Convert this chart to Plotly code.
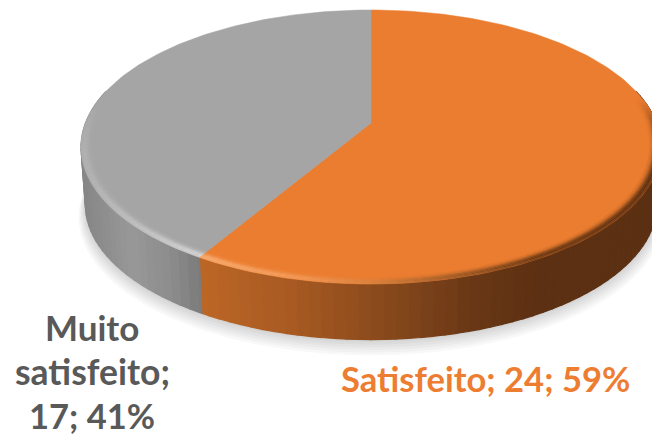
import numpy as np
import plotly.graph_objects as go

categories = ["Satisfeito", "Muito satisfeito"]
values = [24, 17]
percent_labels = ["59%", "41%"]
top_colors = ["#EB7D30", "#A5A5A5"]
label_colors = ["#ED7D31", "#595959"]

W, H = 652, 437
CX, CY, A, HT, K = 371, 123, 285.5, 132.8, 0.175
DEPTH, BSCALE = 58, 0.985


def hexrgb(c):
    c = c.lstrip("#")
    return np.array([int(c[i:i + 2], 16) for i in (0, 2, 4)], float)


def rgb(v):
    return "rgb(%d,%d,%d)" % tuple(np.clip(np.round(v), 0, 255))


def project(theta, r=1.0, depth=0.0, scale=1.0):
    """theta clockwise from top; result in data units of the axes (A-normalised)."""
    X = r * np.sin(theta)
    Y = r * np.cos(theta)
    w = 1 + K * Y
    return X / w * scale, Y / w * (HT / A) * scale - depth / A


def interp_color(x, stops):
    xs = [s[0] for s in stops]
    return np.array([np.interp(x, xs, [hexrgb(s[1])[i] for s in stops]) for i in range(3)])


RIM_STOPS = [
    [(204, "#BC6626"), (290, "#A85A22"), (380, "#8A4A1C"), (470, "#6A3816"), (540, "#5C3012"), (660, "#5C3012")],
    [(80, "#868686"), (130, "#989898"), (170, "#8c8c8c"), (204, "#787878")],
]
EDGE_STOPS = [
    [(204, "#F8AE74"), (300, "#F39A58"), (370, "#D98440"), (450, "#A05C28"), (540, "#683814"), (660, "#5C3012")],
    [(80, "#B0B0B0"), (130, "#C0C0C0"), (204, "#D8D8D8")],
]

fig = go.Figure()


def poly(xs, ys, color, line=0.8):
    fig.add_trace(go.Scatter(x=xs, y=ys, mode="lines", fill="toself", fillcolor=color,
                             line=dict(color=color, width=line), hoverinfo="skip",
                             showlegend=False))


circle = np.linspace(0, 2 * np.pi, 241)
fractions = np.array(values, float) / sum(values)
bounds = np.r_[0, np.cumsum(fractions)] * 2 * np.pi
split = bounds[1]

# soft shadow under the disc
for grow, d in [(1.024, 70), (1.020, 68), (1.016, 66), (1.012, 64), (1.008, 62), (1.004, 60)]:
    x, y = project(circle, depth=d, scale=BSCALE * grow)
    poly(x, y, "rgba(0,0,0,0.028)", line=0)

# side wall
edges = np.union1d(np.linspace(np.pi * 0.42, np.pi * 1.58, 101), [split])
for a0, a1 in zip(edges[:-1], edges[1:]):
    th = np.array([a0, a1])
    x0, y0 = project(th)
    x1, y1 = project(th[::-1], depth=DEPTH, scale=BSCALE)
    px = CX + A * x0.mean()
    s = 0 if (a0 + a1) / 2 < split else 1
    poly(np.r_[x0, x1, x0[0]], np.r_[y0, y1, y0[0]], rgb(interp_color(px, RIM_STOPS[s])), line=1.2)

# top slices, sized from the values
for i, name in enumerate(categories):
    th = np.linspace(bounds[i], bounds[i + 1], 160)
    x, y = project(th)
    poly(np.r_[0, x, 0], np.r_[0, y, 0], top_colors[i], line=0.5)

# bevel along the front edge
rings = [(0.962, 0.970, 0.1), (0.970, 0.976, 0.3), (0.976, 0.982, 0.6), (0.982, 0.988, 0.88),
         (0.988, 0.994, 1.0), (0.994, 1.0, 0.85)]
bedges = np.union1d(np.linspace(np.pi * 0.44, np.pi * 1.56, 141), [split])
for a0, a1 in zip(bedges[:-1], bedges[1:]):
    amid = (a0 + a1) / 2
    s = 0 if amid < split else 1
    fade = np.clip(min(amid - np.pi * 0.44, np.pi * 1.56 - amid) / (np.pi * 0.12), 0, 1)
    for r0, r1, w in rings:
        th = np.array([a0, a1])
        x0, y0 = project(th, r=r0)
        x1, y1 = project(th[::-1], r=r1)
        px = CX + A * x0.mean()
        base = hexrgb(top_colors[s])
        ww = w * fade
        poly(np.r_[x0, x1, x0[0]], np.r_[y0, y1, y0[0]],
             rgb(base * (1 - ww) + interp_color(px, EDGE_STOPS[s]) * ww), line=0.3)

# labels
lab = [
    ("%s; %d; %s" % (categories[0], values[0], percent_labels[0]), 485, 378, 0, 34.6),
    ("Muito", 92, 327, 1, 35),
    ("satisfeito;", 92, 371, 1, 35.5),
    ("%d; %s" % (values[1], percent_labels[1]), 92, 415, 1, 34.5),
]
for text, px, py, c, size in lab:
    fig.add_annotation(text=text, x=px / W, y=1 - py / H, xref="paper", yref="paper",
                       xanchor="center", yanchor="middle", showarrow=False,
                       font=dict(family="Lato", size=size, color=label_colors[c], weight="bold"))

fig.update_layout(
    width=W, height=H, margin=dict(l=0, r=0, t=0, b=0), autosize=False,
    paper_bgcolor="white", plot_bgcolor="white", showlegend=False,
    xaxis=dict(range=[(0 - CX) / A, (W - CX) / A], visible=False, fixedrange=True),
    yaxis=dict(range=[(CY - H) / A, CY / A], visible=False, fixedrange=True),
)
fig.write_html("out.html", config={"displayModeBar": False},
               post_script="document.body.style.margin='0';"
                           "var st=document.createElement('style');"
                           "st.textContent='text{font-variant-ligatures:none}';"
                           "document.head.appendChild(st);")
